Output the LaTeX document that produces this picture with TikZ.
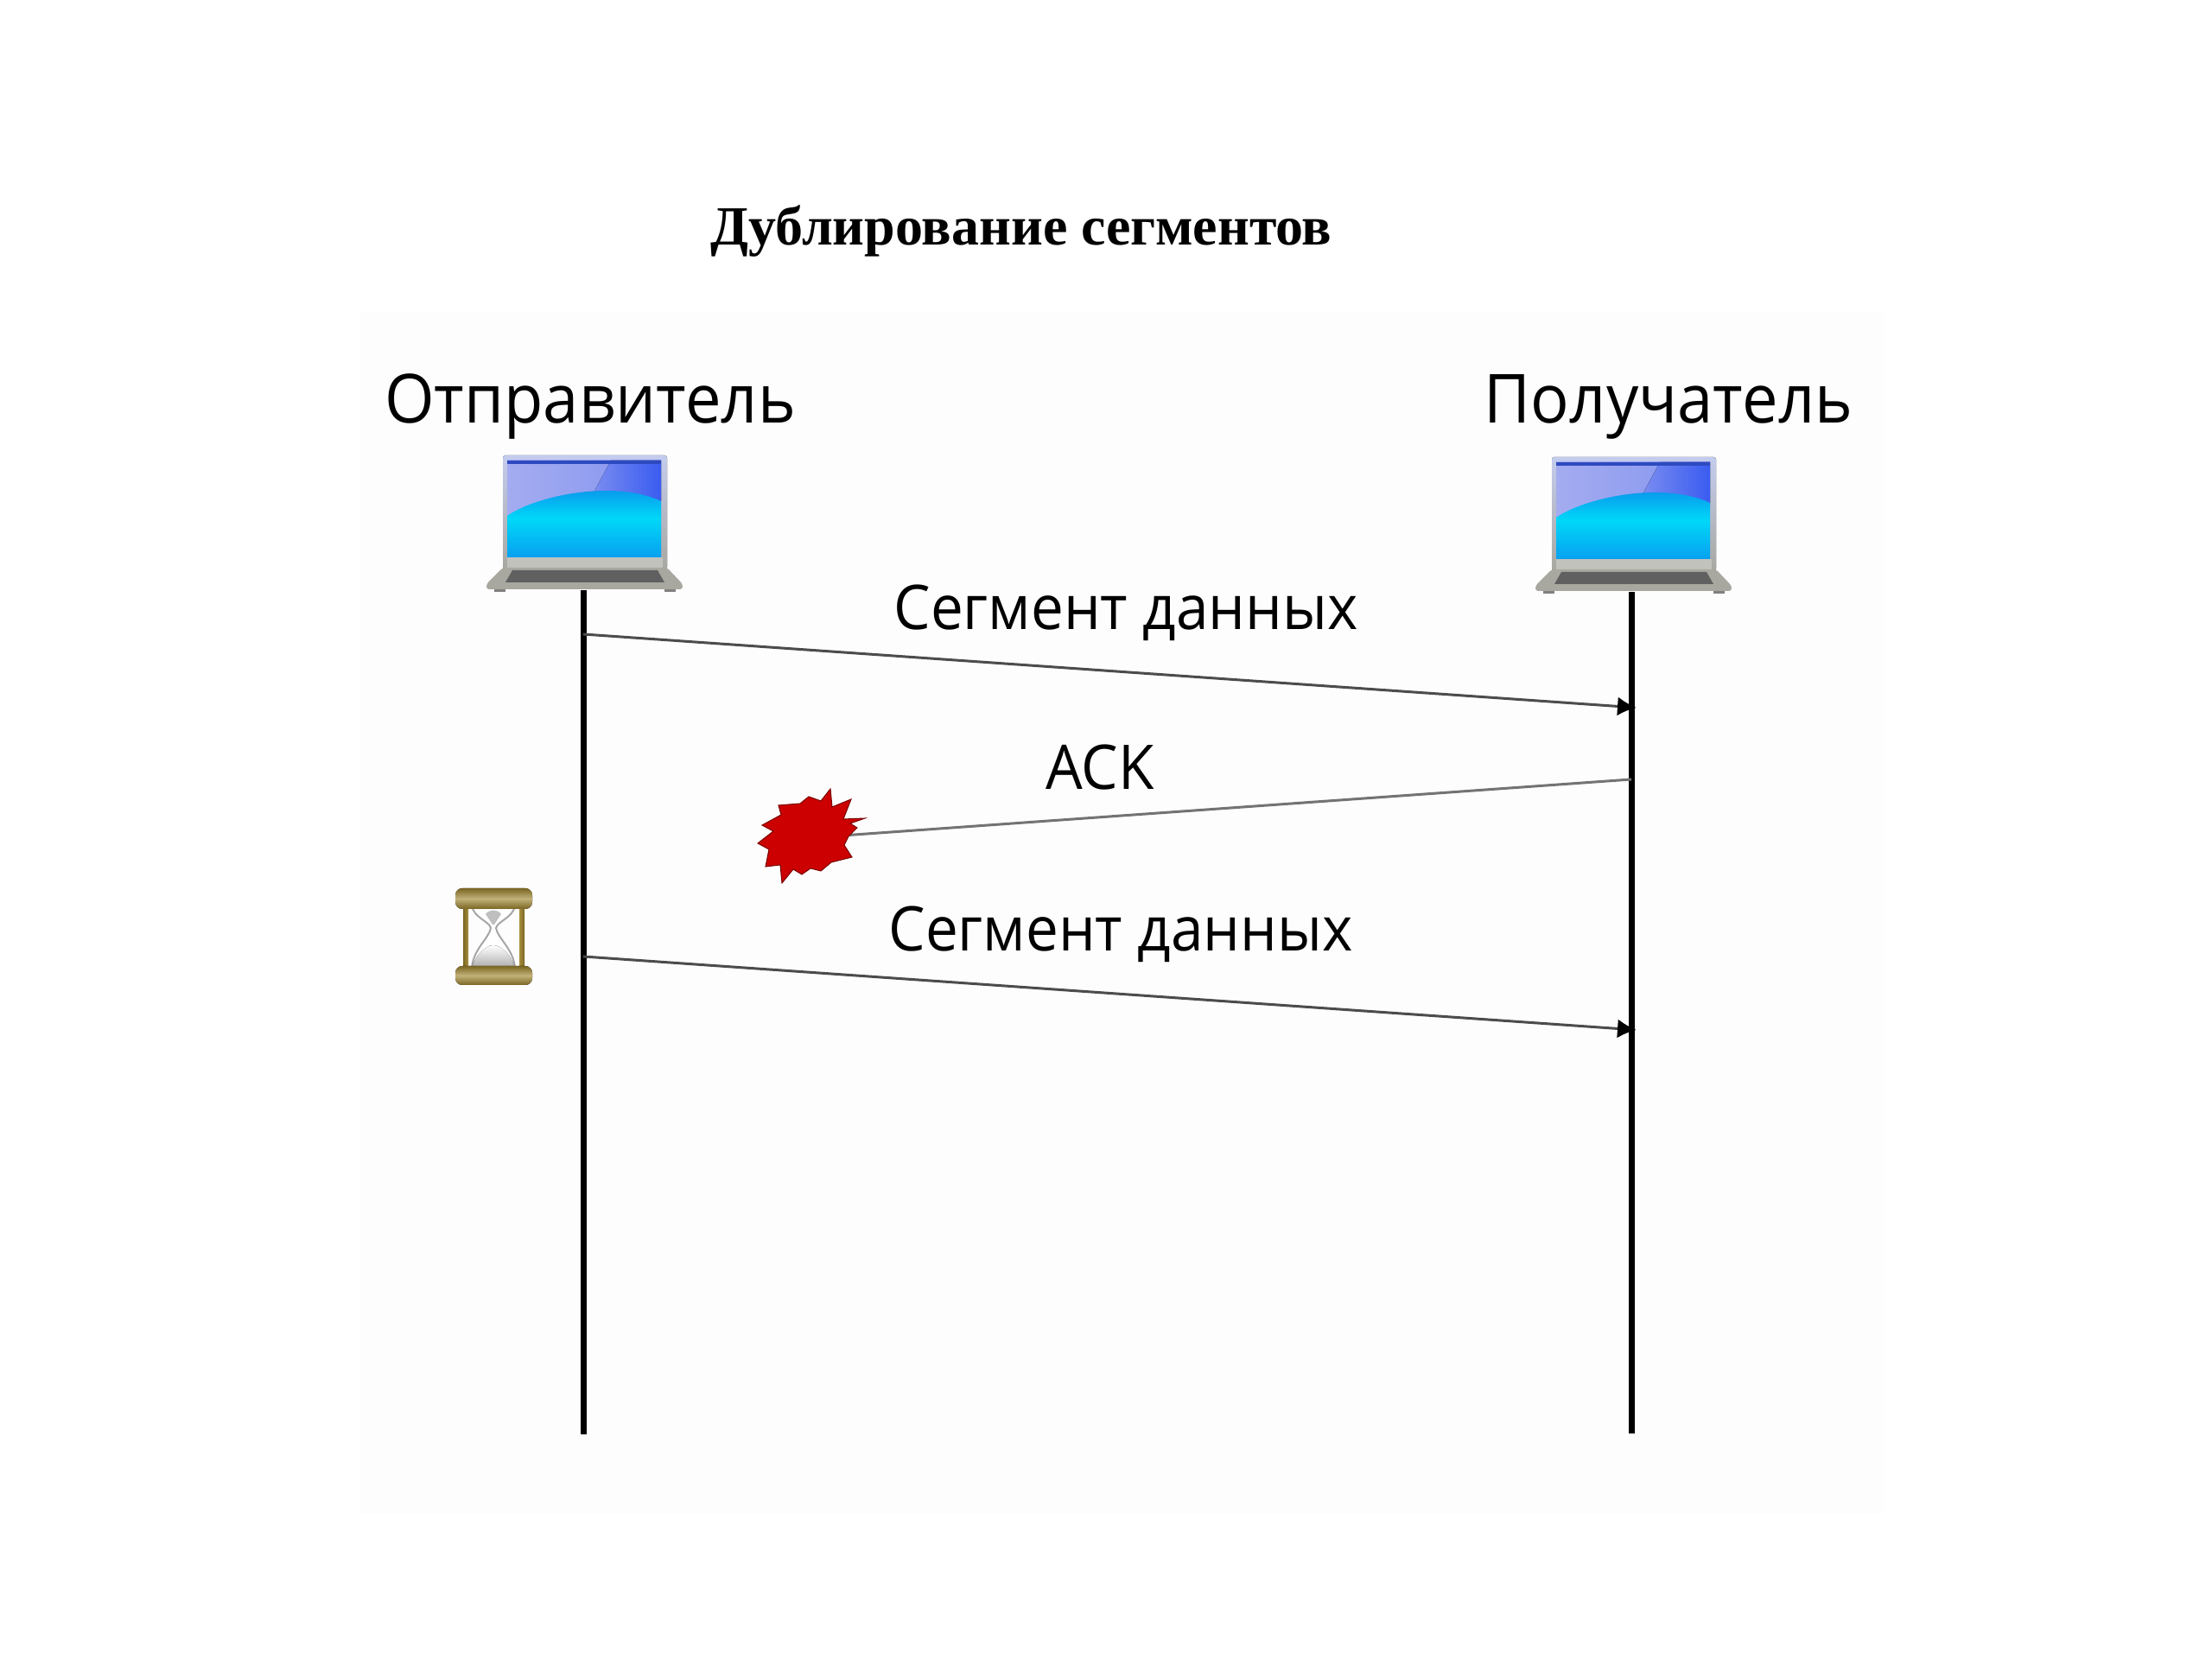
\documentclass[tikz,border=0pt]{standalone}
\usepackage{fontspec}
\setmainfont[FakeStretch=0.945]{Open Sans}
\newfontfamily\titlefont{Liberation Serif}
\usetikzlibrary{arrows.meta}
\definecolor{panelbg}{HTML}{FDFDFD}
\definecolor{lidtop}{HTML}{C4CCEE}
\definecolor{lidlow}{HTML}{A8A8A0}
\definecolor{lavender}{HTML}{A4ACF0}
\definecolor{skyblue}{HTML}{3A5CF0}
\definecolor{domeblue}{HTML}{0C84E8}
\definecolor{domecyan}{HTML}{00D8F8}
\definecolor{domelow}{HTML}{08A0F0}
\definecolor{burstred}{HTML}{CC0000}
\definecolor{gold}{HTML}{A89040}
\definecolor{golddark}{HTML}{7A6622}
\tikzset{
	heading/.style={font=\titlefont\bfseries\fontsize{18.2}{22}\selectfont, anchor=base},
	party/.style={font=\fontsize{22.3}{27}\selectfont, anchor=base},
	msg/.style={font=\fontsize{20.3}{25}\selectfont, anchor=base},
	lifeline/.style={draw=black, line width=0.07cm},
	send/.style={draw=black!70, line width=0.03cm, -{Latex[length=0.22cm,width=0.22cm,black]}},
	laptop/.pic={
		\fill[rounded corners=0.03cm, top color=lidtop, bottom color=lidlow] (-0.95,0.26) rectangle (0.95,1.58);
		\fill[left color=lavender, right color=lavender!70!skyblue] (-0.90,0.40) rectangle (0.88,1.52);
		\fill[left color=lavender!60!skyblue, right color=skyblue] (0.30,1.52) -- (0.10,1.15) -- (0.88,1.05) -- (0.88,1.52) -- cycle;
		\fill[skyblue!80!black] (-0.90,1.48) rectangle (0.88,1.52);
		\shade[top color=domeblue, bottom color=domelow, middle color=domecyan]
			(-0.90,0.88) .. controls (-0.55,1.12) and (0.35,1.30) .. (0.88,1.05) -- (0.88,0.40) -- (-0.90,0.40) -- cycle;
		\fill[lidlow!70!white] (-0.90,0.28) rectangle (0.90,0.40);
		\fill[rounded corners=0.03cm, lidlow] (-0.95,0.28) -- (0.95,0.28) -- (1.13,0.09) -- (1.13,0.03) -- (-1.14,0.03) -- (-1.14,0.09) -- cycle;
		\fill[gray!75!black] (-0.84,0.25) -- (0.84,0.25) -- (0.92,0.11) -- (-0.92,0.11) -- cycle;
		\fill[gray] (-1.05,0.0) rectangle (-0.92,0.03);
		\fill[gray] (0.92,0.0) rectangle (1.05,0.03);
	}
}
\begin{document}
\begin{tikzpicture}
  \useasboundingbox (0,0) rectangle (25.6,19.2);
  \fill[panelbg] (4.16,1.68) rectangle (21.80,15.58);

  \node[heading] (title) at (11.82,16.36) {Дублирование сегментов};
  \node[party] (sender) at (6.83,14.30) {Отправитель};
  \node[party] (receiver) at (19.31,14.30) {Получатель};

  \pic at (6.77,12.35) {laptop};
  \pic at (18.91,12.33) {laptop};

  % lifelines
  \coordinate (senderTop) at (6.75,12.37);
  \coordinate (senderEnd) at (6.75,2.60);
  \coordinate (receiverTop) at (18.88,12.35);
  \coordinate (receiverEnd) at (18.88,2.61);
  \draw[lifeline] (senderTop) -- (senderEnd);
  \draw[lifeline] (receiverTop) -- (receiverEnd);

  % messages
  \coordinate (dataA) at (6.75,11.86);
  \coordinate (dataAend) at (18.94,11.01);
  \coordinate (ack) at (18.88,10.18);
  \coordinate (burst) at (9.75,9.53);
  \coordinate (dataB) at (6.75,8.13);
  \coordinate (dataBend) at (18.94,7.28);
  \draw[send] (dataA) -- (dataAend);
  \draw[draw=black!55, line width=0.03cm] (ack) -- (burst);
  \draw[send] (dataB) -- (dataBend);

  \node[msg] (dataAlabel) at (13.03,11.91) {Сегмент данных};
  \node[msg] (acklabel) at (12.73,10.06) {ACK};
  \node[msg] (dataBlabel) at (12.97,8.19) {Сегмент данных};

  % burst
  \filldraw[fill=burstred, draw=burstred!60!black, line width=0.01cm]
    (10.01,9.73) -- (9.76,9.72) -- (9.85,9.95) -- (9.63,9.86) -- (9.61,10.07) -- (9.50,9.93)
    -- (9.36,9.98) -- (9.26,9.90) -- (9.01,9.88) -- (9.04,9.77) -- (8.82,9.65) -- (8.95,9.58)
    -- (8.77,9.44) -- (8.90,9.37) -- (8.86,9.17) -- (9.03,9.19) -- (9.05,8.98) -- (9.18,9.14)
    -- (9.28,9.08) -- (9.38,9.15) -- (9.50,9.12) -- (9.62,9.22) -- (9.86,9.28) -- (9.77,9.42)
    -- (9.82,9.52) -- (9.92,9.62) -- (9.84,9.67) -- cycle;

  % hourglass
  \filldraw[fill=white, draw=gray!70, line width=0.02cm]
    (5.46,8.72) .. controls (5.48,8.58) and (5.66,8.54) .. (5.68,8.46)
    .. controls (5.66,8.34) and (5.48,8.22) .. (5.46,8.00) -- (5.96,8.00)
    .. controls (5.94,8.22) and (5.76,8.34) .. (5.74,8.46)
    .. controls (5.76,8.54) and (5.94,8.58) .. (5.96,8.72) -- cycle;
  \fill[top color=white, bottom color=gray!60] (5.47,8.02) .. controls (5.50,8.14) and (5.62,8.26) .. (5.71,8.26)
    .. controls (5.80,8.26) and (5.92,8.14) .. (5.95,8.02) -- cycle;
  \fill[gray!50] (5.62,8.62) .. controls (5.66,8.68) and (5.76,8.68) .. (5.80,8.62)
    -- (5.72,8.50) -- (5.70,8.50) -- cycle;
  \fill[left color=golddark, right color=gold] (5.36,7.95) rectangle (5.42,8.75);
  \fill[left color=gold, right color=golddark] (6.01,7.95) rectangle (6.07,8.75);
  \fill[rounded corners=0.08cm, top color=golddark, bottom color=golddark, middle color=gold!70!white] (5.27,8.68) rectangle (6.16,8.92);
  \fill[rounded corners=0.08cm, top color=golddark, bottom color=golddark, middle color=gold!70!white] (5.27,7.80) rectangle (6.16,8.02);
\end{tikzpicture}
\end{document}
